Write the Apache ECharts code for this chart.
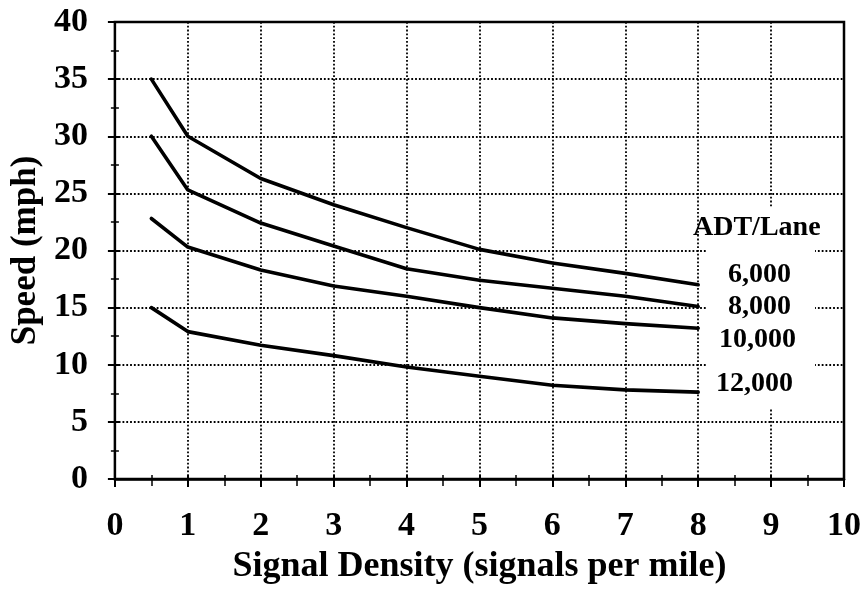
<!DOCTYPE html>
<html>
<head>
<meta charset="utf-8">
<script src="https://cdn.jsdelivr.net/npm/echarts@6/dist/echarts.min.js"></script>
<style>
html,body{margin:0;padding:0;background:#fff;}
#chart{width:864px;height:590px;}
</style>
</head>
<body>
<div id="chart"></div>
<script>
// ---- data ----
const signalDensity = [0.5, 1, 2, 3, 4, 5, 6, 7, 8];
const speed6000  = [35.0, 30.0, 26.3, 24.0, 22.0, 20.1, 18.9, 18.0, 17.0];
const speed8000  = [30.0, 25.3, 22.4, 20.4, 18.4, 17.4, 16.7, 16.0, 15.1];
const speed10000 = [22.8, 20.3, 18.3, 16.9, 16.0, 15.0, 14.1, 13.6, 13.2];
const speed12000 = [15.0, 12.9, 11.7, 10.8, 9.8, 9.0, 8.2, 7.8, 7.6];
const seriesNames = ['6,000', '8,000', '10,000', '12,000'];
const legendTitle = 'ADT/Lane';
const xTitle = 'Signal Density (signals per mile)';
const yTitle = 'Speed (mph)';

const allSpeeds = [speed6000, speed8000, speed10000, speed12000];
const FONT = '"Liberation Serif", "Times New Roman", serif';

const chart = echarts.init(document.getElementById('chart'), null, {renderer: 'canvas'});

const gridLine = {show: true, lineStyle: {color: '#000', width: 1.8, type: [1.8, 2]}};

const option = {
  animation: false,
  backgroundColor: '#fff',
  grid: {left: 114, right: 16, top: 22, bottom: 111, show: true, borderColor: '#000', borderWidth: 2.5, backgroundColor: 'transparent'},
  xAxis: [{
    type: 'value', min: 0, max: 10, interval: 1,
    axisLine: {show: true, lineStyle: {color: '#000', width: 2.5}},
    axisTick: {show: true, length: 8, lineStyle: {color: '#000', width: 2}},
    minorTick: {show: true, splitNumber: 2, length: 7, lineStyle: {color: '#000', width: 1.5}},
    splitLine: gridLine,
    axisLabel: {color: '#000', fontFamily: FONT, fontWeight: 'bold', fontSize: 34, margin: 30},
    name: xTitle, nameLocation: 'middle', nameGap: 70,
    nameTextStyle: {color: '#000', fontFamily: FONT, fontWeight: 'bold', fontSize: 36}
  }, {
    type: 'value', min: 0, max: 10, interval: 1, position: 'bottom',
    axisLine: {show: false},
    axisTick: {show: true, inside: true, length: 4, lineStyle: {color: '#000', width: 2}},
    minorTick: {show: true, splitNumber: 2, length: 4, lineStyle: {color: '#000', width: 1.5}},
    splitLine: {show: false}, axisLabel: {show: false}
  }],
  yAxis: [{
    type: 'value', min: 0, max: 40, interval: 5,
    axisLine: {show: true, lineStyle: {color: '#000', width: 2}},
    axisTick: {show: true, length: 7, lineStyle: {color: '#000', width: 2}},
    minorTick: {show: true, splitNumber: 2, length: 4, lineStyle: {color: '#000', width: 1.5}},
    splitLine: gridLine,
    axisLabel: {color: '#000', fontFamily: FONT, fontWeight: 'bold', fontSize: 34, margin: 27},
    name: yTitle, nameLocation: 'middle', nameGap: 70,
    nameTextStyle: {color: '#000', fontFamily: FONT, fontWeight: 'bold', fontSize: 35}
  }, {
    type: 'value', min: 0, max: 40, interval: 5, position: 'left',
    axisLine: {show: false},
    axisTick: {show: true, inside: true, length: 5, lineStyle: {color: '#000', width: 2}},
    minorTick: {show: true, splitNumber: 2, length: 4, lineStyle: {color: '#000', width: 1.5}},
    splitLine: {show: false}, axisLabel: {show: false}
  }],
  series: allSpeeds.map((arr, i) => ({
    name: seriesNames[i],
    type: 'line',
    xAxisIndex: 0, yAxisIndex: 0,
    data: signalDensity.map((x, j) => [x, arr[j]]),
    showSymbol: false, symbol: 'none',
    lineStyle: {color: '#000', width: 3.6, cap: 'round', join: 'round'},
    z: 5
  })),
  graphic: []
};

chart.setOption(option);

// white patch behind the label block, then the labels
const labelFont = 'bold 28px ' + FONT;
const graphics = [{
  type: 'rect', left: 707, top: 208, z: 3,
  shape: {width: 108, height: 200},
  style: {fill: '#fff'}
}, {
  type: 'text', left: 693, top: 214, z: 10,
  style: {text: legendTitle, font: labelFont, fill: '#000'}
}];
const labelLefts = [728, 728, 719, 716];
const labelTops = [261, 293, 326, 370];
seriesNames.forEach((n, i) => {
  graphics.push({type: 'text', left: labelLefts[i], top: labelTops[i], z: 10,
    style: {text: n, font: labelFont, fill: '#000'}});
});
chart.setOption({graphic: graphics});
</script>
</body>
</html>
